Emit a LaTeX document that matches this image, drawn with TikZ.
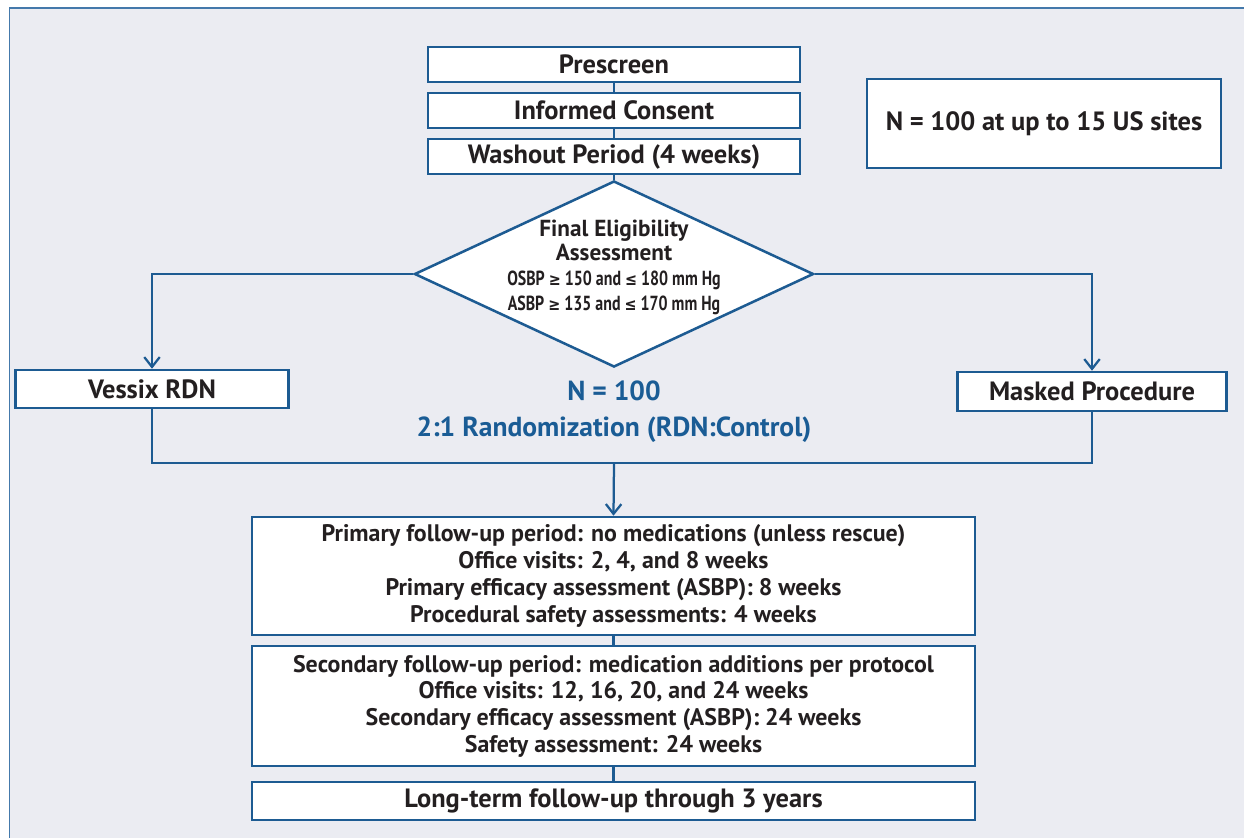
\documentclass[tikz,border=0pt]{standalone}
\usepackage{fontspec}
\setmainfont{PT Sans}
\newfontfamily\narrowfont[FakeStretch=0.78]{PT Sans}
\newfontfamily\symfont[FakeStretch=0.85]{DejaVu Sans}
\usetikzlibrary{arrows.meta, positioning, shapes.geometric}
\definecolor{boxblue}{HTML}{1D5B92}
\definecolor{rimblue}{HTML}{4479AB}
\definecolor{randblue}{HTML}{1A5C95}
\definecolor{panelgray}{HTML}{EBECF2}
\definecolor{inkdark}{HTML}{231F20}
\newcommand{\geqsym}{{\symfont\fontsize{12}{12}\selectfont ≥}}
\newcommand{\leqsym}{{\symfont\fontsize{12}{12}\selectfont ≤}}

\begin{document}
\begin{tikzpicture}[
  x=0.025cm, y=-0.025cm,
  every node/.style={font=\fontsize{18.8}{21}\selectfont\bfseries, text=inkdark},
  box/.style={rectangle, draw=boxblue, line width=1.8pt, fill=white, align=center, inner sep=0pt},
  listbox/.style={box, font=\fontsize{17}{19}\selectfont\bfseries},
  decision/.style={diamond, draw=boxblue, line width=1.8pt, fill=white, inner sep=0pt, aspect=2.145, minimum width=9.975cm, minimum height=4.65cm},
  link/.style={draw=boxblue, line width=1.6pt},
  arrow/.style={link, -{Straight Barb[length=7pt, width=11pt]}},
]
\useasboundingbox (0,0) rectangle (1244,838);

% Panel
\fill[panelgray] (9.5,8) rectangle (1244,838);
\draw[rimblue, line width=1.4pt] (9.5,838) -- (9.5,8) -- (1244,8);

% Screening steps
\node[box, minimum width=9.3cm, minimum height=0.875cm] (prescreen) at (614,64.5) {Prescreen};
\node[box, minimum width=9.3cm, minimum height=0.875cm] (consent) at (614,110.5) {Informed Consent};
\node[box, minimum width=9.3cm, minimum height=0.875cm] (washout) at (614,156.5) {Washout Period (4 weeks)};
\node[box, minimum width=8.85cm, minimum height=2.225cm] (sites) at (1044,123.5) {N = 100 at up to 15 US sites};

% Eligibility
\node[decision] (elig) at (614,274) {};
\node[align=center, font=\fontsize{16.5}{17.5}\selectfont\bfseries] (eligtext) at (614,267) {Final Eligibility\\Assessment\\{\narrowfont\fontsize{14.5}{17.5}\selectfont OSBP \geqsym{} 150 and \leqsym{} 180 mm Hg}\\{\narrowfont\fontsize{14.5}{17.5}\selectfont ASBP \geqsym{} 135 and \leqsym{} 170 mm Hg}};

% Arms
\node[box, minimum width=6.825cm, minimum height=0.95cm] (vessix) at (152,389) {Vessix RDN};
\node[box, minimum width=6.725cm, minimum height=0.975cm] (masked) at (1092,391.5) {Masked Procedure};
\node[align=center, text=randblue, font=\fontsize{19.6}{25.6}\selectfont\bfseries] (rand) at (614,412) {N = 100\\2:1 Randomization (RDN:Control)};
\coordinate (merge) at (614,463);

% Follow-up
\node[listbox, minimum width=18.075cm, minimum height=2.95cm] (primary) at (613.5,576) {Primary follow-up period: no medications (unless rescue)\\Office visits: 2, 4, and 8 weeks\\Primary efficacy assessment (ASBP): 8 weeks\\Procedural safety assessments: 4 weeks};
\node[listbox, minimum width=18.075cm, minimum height=3cm] (secondary) at (613.5,706) {Secondary follow-up period: medication additions per protocol\\Office visits: 12, 16, 20, and 24 weeks\\Secondary efficacy assessment (ASBP): 24 weeks\\Safety assessment: 24 weeks};
\node[box, minimum width=18.075cm, minimum height=0.95cm] (longterm) at (613.5,801) {Long-term follow-up through 3 years};

% Connectors
\draw[link] (prescreen) -- (consent);
\draw[link] (consent) -- (washout);
\draw[link] (washout) -- (elig.north);
\draw[arrow] (elig.west) -| (vessix.north);
\draw[arrow] (elig.east) -| (masked.north);
\draw[link] (vessix.south) |- (merge) -| (masked.south);
\draw[arrow] (merge) -- (primary.north);
\draw[link] (primary) -- (secondary);
\draw[link] (secondary) -- (longterm);

\end{tikzpicture}
\end{document}
